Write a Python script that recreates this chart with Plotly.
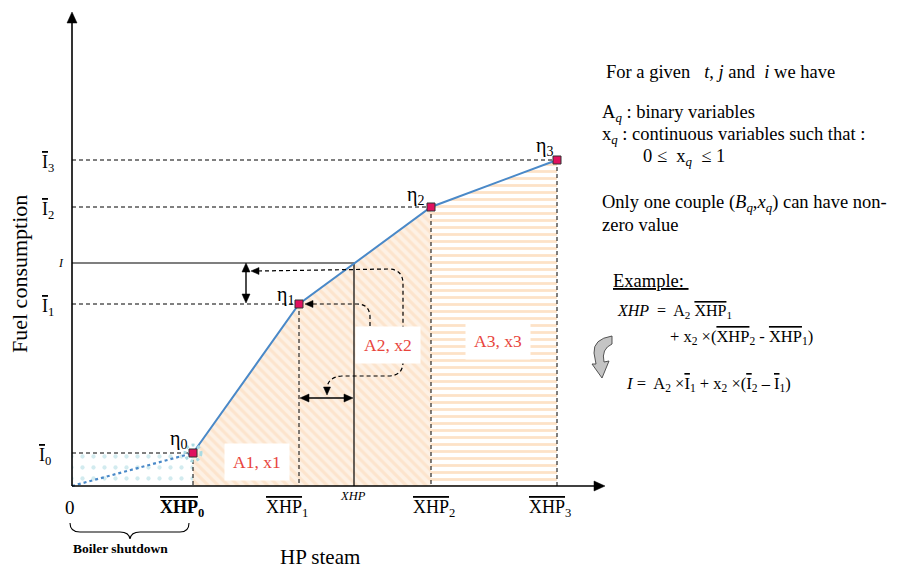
import plotly.graph_objects as go

# ---------------- data (arbitrary units, origin at 0) ----------------
point_names = ["η<sub>0</sub>", "η<sub>1</sub>", "η<sub>2</sub>", "η<sub>3</sub>"]
xhp_bar = [121, 227, 359, 485]      # XHP_q breakpoints
i_bar = [33, 182, 279, 326]         # I_q fuel consumption at breakpoints
xhp_op = 282                        # operating XHP
i_op = 223                          # operating I
x_axis_end = 533
y_axis_end = 474
xhp_labels = ["<b><span style='text-decoration:overline'>XHP</span><sub>0</sub></b>",
              "<span style='text-decoration:overline'>XHP</span><sub>1</sub>",
              "<span style='text-decoration:overline'>XHP</span><sub>2</sub>",
              "<span style='text-decoration:overline'>XHP</span><sub>3</sub>"]
i_labels = ["<span style='text-decoration:overline'>I</span><sub>0</sub>",
            "<span style='text-decoration:overline'>I</span><sub>1</sub>",
            "<span style='text-decoration:overline'>I</span><sub>2</sub>",
            "<span style='text-decoration:overline'>I</span><sub>3</sub>"]
region_labels = ["A1, x1", "A2, x2", "A3, x3"]

# ---------------- layout helpers ----------------
X0, Y0 = 72, 486
def P(px, py):
    return px - X0, Y0 - py

def path(cmds):
    s = ""
    for c in cmds:
        s += c[0] + " " + " ".join(f"{P(*p)[0]},{P(*p)[1]}" for p in c[1:]) + " "
    return s.strip()

FONT = "Liberation Serif"
BLUE = "#4a89c8"
RED = "#e8453c"
DASH = "4px,3px"

fig = go.Figure()

# dotted region (boiler shutdown)
fig.add_trace(go.Scatter(
    x=[0, 0, xhp_bar[0], xhp_bar[0], 0], y=[0, i_bar[0], i_bar[0], 0, 0],
    fill="toself", mode="lines", line=dict(width=0),
    fillpattern=dict(shape=".", bgcolor="white", fgcolor="#a5d7e0", size=11, solidity=0.12),
    hoverinfo="skip", showlegend=False))

# A1/A2 region
fig.add_trace(go.Scatter(
    x=[xhp_bar[0], xhp_bar[0], xhp_bar[1], xhp_bar[2], xhp_bar[2], xhp_bar[0]],
    y=[0, i_bar[0], i_bar[1], i_bar[2], 0, 0],
    fill="toself", mode="lines", line=dict(width=0),
    fillpattern=dict(shape="\\", bgcolor="#fdf1e5", fgcolor="#fbd8b5", size=7, solidity=0.45),
    hoverinfo="skip", showlegend=False))

# A3 region
fig.add_trace(go.Scatter(
    x=[xhp_bar[2], xhp_bar[2], xhp_bar[3], xhp_bar[3], xhp_bar[2]],
    y=[0, i_bar[2], i_bar[3], 0, 0],
    fill="toself", mode="lines", line=dict(width=0),
    fillpattern=dict(shape="-", bgcolor="white", fgcolor="#fcc690", size=7, solidity=0.4),
    hoverinfo="skip", showlegend=False))

# dashed guide lines
gx, gy = [], []
for xv, yv in zip(xhp_bar, i_bar):
    gx += [0, xv, None, xv, xv, None]
    gy += [yv, yv, None, yv, 0, None]
fig.add_trace(go.Scatter(x=gx, y=gy, mode="lines",
                         line=dict(color="black", width=1, dash=DASH),
                         hoverinfo="skip", showlegend=False))

# operating point lines
fig.add_trace(go.Scatter(x=[0, xhp_op, xhp_op], y=[i_op, i_op, 0], mode="lines",
                         line=dict(color="black", width=1.2),
                         hoverinfo="skip", showlegend=False))

# dotted line from origin
fig.add_trace(go.Scatter(x=[0, xhp_bar[0]], y=[0, i_bar[0]], mode="lines",
                         line=dict(color=BLUE, width=2.2, dash="dot"),
                         hoverinfo="skip", showlegend=False))

# piecewise linear curve
fig.add_trace(go.Scatter(x=xhp_bar, y=i_bar, mode="lines",
                         line=dict(color=BLUE, width=2),
                         hoverinfo="skip", showlegend=False))

# halo at eta0
fig.add_shape(type="circle", xref="x", yref="y",
              x0=xhp_bar[0] - 8, x1=xhp_bar[0] + 8, y0=i_bar[0] - 8, y1=i_bar[0] + 8,
              line=dict(color="#a9dbe3", width=3, dash="dot"))

# markers
fig.add_trace(go.Scatter(x=xhp_bar, y=i_bar, mode="markers",
                         marker=dict(symbol="square", size=8, color="#e0115f",
                                     line=dict(color="#333", width=1)),
                         hoverinfo="skip", showlegend=False))

# ---------- arrows drawn as shapes ----------
def line(x0, y0, x1, y1, width=1.4, dash=None):
    fig.add_shape(type="line", xref="x", yref="y", x0=x0, y0=y0, x1=x1, y1=y1,
                  line=dict(color="black", width=width, dash=dash))

def head(tx, ty, dx, dy, L=9, W=4):
    # tip at data (tx,ty); (dx,dy) unit direction the arrow points to
    nx, ny = -dy, dx
    pts = [(tx, ty), (tx - L * dx + W * nx, ty - L * dy + W * ny),
           (tx - L * dx - W * nx, ty - L * dy - W * ny)]
    s = "M " + " L ".join(f"{a},{b}" for a, b in pts) + " Z"
    fig.add_shape(type="path", xref="x", yref="y", path=s,
                  fillcolor="black", line=dict(color="black", width=0.5))

# axes
line(0, 0, x_axis_end - 6, 0, width=1.6)
line(0, 0, 0, y_axis_end - 6, width=1.6)
head(x_axis_end, 0, 1, 0, L=11, W=5)
head(0, y_axis_end, 0, 1, L=11, W=5)

# double vertical arrow
vx = P(246, 0)[0]
line(vx, i_bar[1] + 6, vx, i_op - 6)
head(vx, i_op, 0, 1)
head(vx, i_bar[1] + 1, 0, -1)
# double horizontal arrow
hy = P(0, 398)[1]
line(xhp_bar[1] + 6, hy, xhp_op - 6, hy)
head(xhp_op - 1, hy, 1, 0)
head(xhp_bar[1] + 1, hy, -1, 0)

# dashed curved arrows
p1 = path([("M", (258, 271)), ("L", (388, 269)), ("Q", (403, 269), (403, 284)),
           ("L", (403, 362)), ("Q", (403, 376), (388, 376)), ("L", (342, 376)),
           ("Q", (328, 377), (327, 388))])
p2 = path([("M", (370, 326)), ("L", (370, 316)), ("Q", (369, 304), (357, 304)), ("L", (311, 304))])
for p in (p1, p2):
    fig.add_shape(type="path", xref="x", yref="y", path=p,
                  line=dict(color="black", width=1.2, dash=DASH))
hx, hy2 = P(251, 271); head(hx, hy2, -1, 0, L=8, W=3.5)
hx, hy2 = P(327, 395); head(hx, hy2, 0, -1, L=8, W=3.5)
hx, hy2 = P(305, 304); head(hx, hy2, -1, 0, L=8, W=3.5)

# brace
fig.add_shape(type="path", xref="x", yref="y",
              path=path([("M", (70, 523)), ("Q", (70, 532), (80, 532)), ("L", (120, 532)),
                         ("Q", (129, 532), (130, 539)), ("Q", (131, 532), (140, 532)),
                         ("L", (180, 532)), ("Q", (189, 532), (189, 523))]),
              line=dict(color="black", width=1.1))

# gray curved arrow
fig.add_shape(type="path", xref="x", yref="y",
              path=path([("M", (612, 336)), ("Q", (593, 339), (594, 353)), ("L", (596, 364)),
                         ("L", (592, 364)), ("L", (602, 378)), ("L", (609, 361)),
                         ("L", (604, 362)), ("Q", (601, 349), (612, 344)), ("Z",)]),
              fillcolor="#c4c4c4", line=dict(color="#444", width=0.9))

ann = []
def T(px, py, text, size=16, color="black", xanchor="center", **kw):
    x, y = P(px, py)
    d = dict(x=x, y=y, xref="x", yref="y", text=text, showarrow=False,
             font=dict(family=FONT, size=size, color=color), xanchor=xanchor, yanchor="middle")
    d.update(kw)
    return d

# tick labels
ann.append(T(70, 507, "0", size=19))
tick_px = [182, 287, 434, 550]
for px, lab in zip(tick_px, xhp_labels):
    ann.append(T(px, 508, lab, size=18))
ann.append(T(X0 + xhp_op - 1, 496, "<i>XHP</i>", size=12.5))
i_lab_px = [45, 48, 48, 48]
for yv, lab, lx in zip(i_bar, i_labels, i_lab_px):
    ann.append(T(lx, Y0 - yv + 3, lab, size=18))
ann.append(T(61, Y0 - i_op, "<i>I</i>", size=12))

# eta labels
eta_off = [(-15, -14), (-14, -9), (-16, -12), (-13, -14)]
for xv, yv, lab, (ox, oy) in zip(xhp_bar, i_bar, point_names, eta_off):
    ann.append(T(X0 + xv + ox, Y0 - yv + oy, lab, size=20))

# region labels
reg_pos = [(257, 462), (388, 345), (498, 341)]
for (px, py), lab in zip(reg_pos, region_labels):
    ann.append(T(px, py, lab, size=17.5, color=RED, bgcolor="white", borderpad=8))

# axis titles
ann.append(T(320, 557, "HP steam", size=21))
ann.append(T(19, 274, "Fuel consumption", size=22, textangle=-90))
ann.append(T(120, 548, "<b>Boiler shutdown</b>", size=13.5))

# right-hand text
OL = "<span style='text-decoration:overline'>"
right = [
    (604, 72, "For a given   <i>t</i>, <i>j</i> and  <i>i</i> we have", 18.5),
    (600, 113, "A<i><sub>q</sub></i> : binary variables", 18.5),
    (600, 135, "x<i><sub>q</sub></i> : continuous variables such that :", 18.5),
    (641, 157, "0 ≤  x<i><sub>q</sub></i>  ≤ 1", 18.5),
    (600, 203, "Only one couple (<i>B<sub>q</sub></i>,<i>x<sub>q</sub></i>) can have non-", 18.5),
    (600, 225, "zero value", 18.5),
    (611, 281, "<u>Example: </u>", 18.5),
    (615, 311, "<i>XHP</i>  =  A<sub>2</sub> " + OL + "XHP</span><sub>1</sub>", 16),
    (668, 337, "+ x<sub>2</sub> ×(" + OL + "XHP</span><sub>2</sub> - " + OL + "XHP</span><sub>1</sub>)", 16.5),
    (624, 384, "<i>I</i> =  A<sub>2</sub> ×" + OL + "I</span><sub>1</sub> + x<sub>2</sub> ×(" + OL + "I</span><sub>2</sub> – " + OL + "I</span><sub>1</sub>)", 16.5),
]
for px, py, txt, sz in right:
    ann.append(T(px, py, txt, size=sz, xanchor="left"))

fig.update_layout(
    width=898, height=572, margin=dict(l=0, r=0, t=0, b=0),
    paper_bgcolor="white", plot_bgcolor="white",
    xaxis=dict(range=[-X0, 898 - X0], visible=False, fixedrange=True),
    yaxis=dict(range=[Y0 - 572, Y0], visible=False, fixedrange=True),
    annotations=ann, showlegend=False,
)
fig.write_html("out.html")
